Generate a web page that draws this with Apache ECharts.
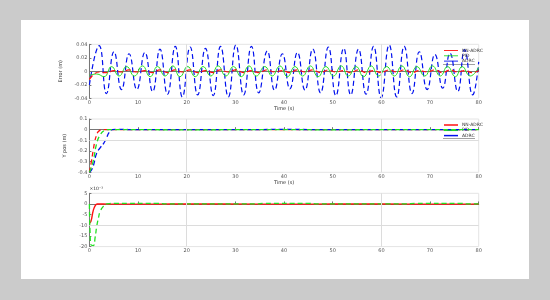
<!DOCTYPE html>
<html>
<head>
<meta charset="utf-8">
<script src="https://cdn.jsdelivr.net/npm/echarts@6/dist/echarts.min.js"></script>
<style>
    html, body { margin: 0; padding: 0; background: #cbcbcb; }
    #card { position: absolute; left: 21px; top: 20px; width: 508px; height: 259px; background: #fff; }
    #chart { position: absolute; left: 0; top: 0; width: 550px; height: 300px; }
</style>
</head>
<body>
<div id="card"></div>
<div id="chart"></div>
<script>
// plot 1 - tracking error, extrema
const errBlueT = [0, 2.0, 3.5, 5.05, 6.6, 8.15, 9.75, 11.4, 13.0, 14.5, 16.05, 17.65, 19.1, 20.7, 22.25, 23.85, 25.45, 26.95, 28.55, 30.1,
    31.7, 33.3, 34.8, 36.55, 38.05, 39.65, 41.2, 42.75, 44.3, 45.9, 47.5, 49.1, 50.65, 52.25, 53.7, 55.3, 56.85, 58.4, 59.95, 61.6,
    63.15, 64.7, 66.3, 67.8, 69.4, 71.0, 72.6, 74.1, 75.7, 77.1, 78.75, 80];
const errBlue = [-0.02, 0.038, -0.033, 0.029, -0.027, 0.026, -0.027, 0.028, -0.030, 0.033, -0.034, 0.037, -0.038, 0.036, -0.035, 0.034, -0.036, 0.037, -0.038, 0.039,
    -0.035, 0.037, -0.032, 0.030, -0.028, 0.026, -0.026, 0.028, -0.028, 0.033, -0.032, 0.036, -0.036, 0.034, -0.035, 0.033, -0.034, 0.037, -0.039, 0.039,
    -0.038, 0.037, -0.033, 0.029, -0.027, 0.025, -0.025, 0.027, -0.030, 0.032, -0.035, 0.014];
const errRed = [-0.012, -0.001, -0.002, 0.001, -0.001, 0.002, -0.001, 0.001, -0.002, 0.002, -0.002, 0.002, -0.001, 0.002, -0.002, 0.001, -0.002, 0.002, -0.001, 0.002,
    -0.002, 0.001, -0.002, 0.002, -0.001, 0.001, -0.002, 0.002, -0.001, 0.002, -0.002, 0.002, -0.001, 0.001, -0.002, 0.002, -0.002, 0.001, -0.002, 0.002,
    -0.001, 0.002, -0.002, 0.001, -0.001, 0.002, -0.002, 0.002, -0.001, 0.001, -0.002, 0.001];
const errGreenT = [0, 1.5, 3.0, 4.55, 6.1, 7.65, 9.25, 10.9, 12.5, 14.0, 15.55, 17.15, 18.6, 20.2, 21.75, 23.35, 24.95, 26.45, 28.05, 29.6,
    31.2, 32.8, 34.3, 36.05, 37.55, 39.15, 40.7, 42.25, 43.8, 45.4, 47.0, 48.6, 50.15, 51.75, 53.2, 54.8, 56.35, 57.9, 59.45, 61.1,
    62.65, 64.2, 65.8, 67.3, 68.9, 70.5, 72.1, 73.6, 75.2, 76.6, 78.25, 80];
const errGreen = [-0.006, -0.004, -0.008, 0.007, -0.007, 0.007, -0.007, 0.008, -0.008, 0.007, -0.007, 0.008, -0.008, 0.007, -0.008, 0.007, -0.007, 0.008, -0.007, 0.007,
    -0.008, 0.008, -0.007, 0.007, -0.007, 0.008, -0.008, 0.007, -0.007, 0.008, -0.008, 0.007, -0.007, 0.008, -0.007, 0.007, -0.008, 0.008, -0.007, 0.007,
    -0.007, 0.008, -0.008, 0.007, -0.007, 0.008, -0.007, 0.007, -0.008, 0.007, -0.007, 0.006];

// plot 2 - position response
const posRedT = [0, 0.4, 0.8, 1.15, 1.5, 1.8, 2.5, 3.5, 10, 20, 30, 40, 50, 60, 70, 80];
const posRed = [-0.4, -0.3, -0.19, -0.1, -0.05, -0.02, 0, 0.001, 0, 0, 0, 0, 0, 0, 0, 0];
const posGreenT = [0, 0.27, 0.8, 1.5, 2.2, 3.2, 3.8, 10, 20, 30, 40, 50, 60, 70, 80];
const posGreen = [-0.4, -0.37, -0.29, -0.13, -0.05, -0.005, 0, 0, -0.002, 0, 0.001, -0.002, 0, 0, 0];
const posBlueT = [0, 0.4, 0.8, 1.5, 2.2, 2.9, 3.5, 4.0, 4.7, 6, 10, 20, 30, 40, 50, 60, 70, 80];
const posBlue = [-0.4, -0.38, -0.34, -0.22, -0.17, -0.13, -0.08, -0.03, 0, 0.002, 0, 0, 0, 0.002, 0, 0, 0.001, 0];

// plot 3 - values in units of 1e-3
const ctrlRedT = [0, 0.3, 0.8, 1.2, 1.6, 4, 14, 20, 35, 46, 55, 66, 77, 80];
const ctrlRed = [-9, -8.3, -3, -0.8, 0, -0.1, -0.1, 0, -0.1, -0.1, 0, -0.1, -0.1, 0];
const ctrlGreenT = [0, 0.15, 0.35, 0.8, 1.2, 1.5, 1.85, 2.2, 2.9, 3.6, 5, 14, 16, 34, 36, 45, 47, 65, 67, 76, 78, 80];
const ctrlGreen = [0, -14, -19.3, -19.5, -15.3, -10.6, -6.7, -3.6, -1, 0, 0.3, 0.3, 0, 0, 0.3, 0.3, 0, 0, 0.3, 0.3, 0, 0];

const xTicks = [0, 80, 10];
const names = ['NN-ADRC', 'PID', 'ADRC'];
const RED = '#ff1010', GREEN = '#22e022', BLUE = '#0010ee';

function zip(t, v) {
    return t.map((x, i) => [x, v[i]]);
}

const tickFont = {fontSize: 5, color: '#555', fontFamily: 'DejaVu Sans'};
const grids = [
    {left: 89.4, width: 389.3, top: 44.3, height: 54},
    {left: 89.4, width: 389.3, top: 119, height: 53.3},
    {left: 89.4, width: 389.3, top: 193.3, height: 53.3}
];

function makeX(i, withName) {
    return {
        gridIndex: i, type: 'value', min: xTicks[0], max: xTicks[1], interval: xTicks[2],
        name: withName ? 'Time (s)' : '', nameLocation: 'middle', nameGap: 8,
        nameTextStyle: {fontSize: 5, color: '#333', fontFamily: 'DejaVu Sans'},
        axisLine: {lineStyle: {color: '#777', width: 1}},
        axisTick: {inside: true, length: 2.5, lineStyle: {color: '#777'}},
        axisLabel: Object.assign({margin: 2}, tickFont),
        splitLine: {show: false}
    };
}

function makeY(i, min, max, interval, name, extra) {
    return Object.assign({
        gridIndex: i, type: 'value', min: min, max: max, interval: interval,
        name: name, nameLocation: 'middle', nameGap: 15,
        nameTextStyle: {fontSize: 5, color: '#333', fontFamily: 'DejaVu Sans'},
        axisLine: {show: true, lineStyle: {color: '#777', width: 1}},
        axisTick: {show: true, inside: true, length: 2, lineStyle: {color: '#777'}},
        axisLabel: Object.assign({margin: 2}, tickFont),
        splitLine: {show: false}
    }, extra || {});
}

function gridLines(yVal) {
    let data = [{xAxis: 20}, {xAxis: 60}];
    if (yVal !== null) {
        data.push({yAxis: yVal});
    }
    return {
        silent: true, symbol: 'none', label: {show: false},
        lineStyle: {color: '#dcdcdc', type: 'solid', width: 1},
        data: data
    };
}

function line(name, xi, data, color, dash, width, extra) {
    return Object.assign({
        name: name, type: 'line', xAxisIndex: xi, yAxisIndex: xi,
        data: data, smooth: true, showSymbol: false, symbol: 'none',
        lineStyle: {color: color, width: width, type: dash ? [5, 3] : 'solid'},
        itemStyle: {color: color},
        animation: false
    }, extra || {});
}

function makeLegend(top, h) {
    return {
        data: names, orient: 'vertical', left: 444, top: top, padding: 0,
        icon: 'rect', itemWidth: 14, itemHeight: h, itemGap: 0.3,
        textStyle: {fontSize: 4.5, lineHeight: 5, color: '#333', fontFamily: 'DejaVu Sans', padding: [0, 0, 0, -1]},
        selectedMode: false
    };
}

const chart = echarts.init(document.getElementById('chart'));
chart.setOption({
    backgroundColor: 'transparent',
    animation: false,
    grid: grids.map(g => Object.assign({show: true, borderColor: '#e4e4e4', borderWidth: 1, backgroundColor: 'transparent'}, g)),
    xAxis: [makeX(0, true), makeX(1, true), makeX(2, false)],
    yAxis: [
        makeY(0, -0.04, 0.04, 0.02, 'Error (m)'),
        makeY(1, -0.4, 0.1, 0.1, 'Y pos (m)'),
        makeY(2, -20, 5, 5, '×10⁻³', {
            nameLocation: 'end', nameGap: 2,
            nameTextStyle: {fontSize: 4.5, color: '#333', align: 'left', fontFamily: 'DejaVu Sans'}
        })
    ],
    legend: [makeLegend(48, 0.9), makeLegend(122.5, 1.5)],
    graphic: [
        {type: 'line', shape: {x1: 443, y1: 64.5, x2: 475, y2: 64.5}, style: {stroke: '#888', lineWidth: 0.8}, silent: true},
        {type: 'line', shape: {x1: 443, y1: 138.5, x2: 475, y2: 138.5}, style: {stroke: '#888', lineWidth: 0.8}, silent: true}
    ],
    series: [
        line(names[2], 0, zip(errBlueT, errBlue), BLUE, true, 1.2, {markLine: gridLines(null), z: 3}),
        line(names[1], 0, zip(errGreenT, errGreen), GREEN, false, 1, {z: 4}),
        line(names[0], 0, zip(errBlueT, errRed), RED, true, 1.2, {z: 5}),

        line(names[0], 1, zip(posRedT, posRed), RED, true, 1.3, {markLine: gridLines(-0.1), z: 3}),
        line(names[2], 1, zip(posBlueT, posBlue), BLUE, true, 1.3, {z: 4}),
        line(names[1], 1, zip(posGreenT, posGreen), GREEN, true, 1.3, {z: 5}),

        line('ctrl-a', 2, zip(ctrlRedT, ctrlRed), RED, false, 1.4, {markLine: gridLines(-10), z: 3}),
        line('ctrl-b', 2, zip(ctrlGreenT, ctrlGreen), GREEN, true, 1.3, {z: 4})
    ]
});
</script>
</body>
</html>
